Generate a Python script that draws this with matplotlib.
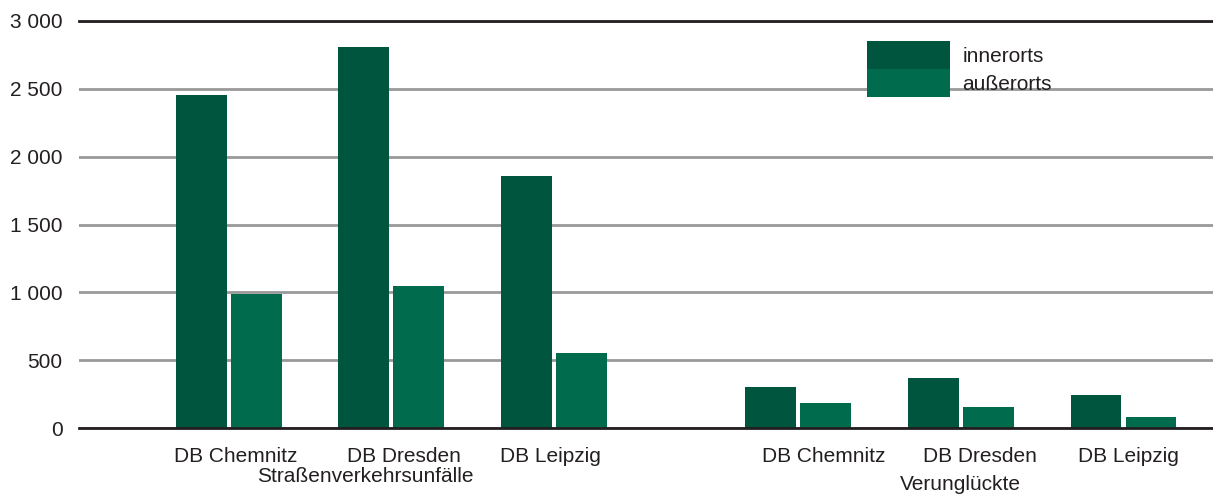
import matplotlib.pyplot as plt
import numpy as np

plt.rcParams['font.family'] = ['Liberation Sans', 'DejaVu Sans']

districts = ["DB Chemnitz", "DB Dresden", "DB Leipzig"]
groups = ["Straßenverkehrsunfälle", "Verunglückte"]
innerorts = [2455, 2810, 1855, 302, 371, 241]
ausserorts = [988, 1047, 553, 187, 155, 84]
series_labels = ["innerorts", "außerorts"]
yticks = [0, 500, 1000, 1500, 2000, 2500, 3000]
ytick_labels = ["0", "500", "1 000", "1 500", "2 000", "2 500", "3 000"]

dark = "#00553f"
light = "#006b4d"

fig = plt.figure(figsize=(12.13, 4.95), dpi=100)
ax = fig.add_axes([79/1213, 1 - 428/495, 1 - 79/1213, (428 - 21)/495])

# pair centres: two groups of three, wider gap between groups
x = np.array([0, 1, 2, 3.5, 4.5, 5.5])
w = 0.313
gap = 0.0125
ax.bar(x - w/2 - gap, innerorts, w, color=dark, label=series_labels[0], zorder=3)
ax.bar(x + w/2 + gap, ausserorts, w, color=light, label=series_labels[1], zorder=3)

ax.set_xlim(-0.92, 6.05)
ax.set_ylim(0, 3000)
ax.set_yticks(yticks)
ax.set_yticklabels(ytick_labels)
ax.tick_params(axis='y', length=0, pad=11.7, labelsize=15, labelcolor="#231f20")
ax.tick_params(axis='x', length=0, pad=14, labelsize=15, labelcolor="#231f20")

label_x = [0.04, 1.08, 1.98, 3.66, 4.62, 5.53]
ax.set_xticks(label_x)
ax.set_xticklabels(districts * 2)

for s in ["left", "right"]:
    ax.spines[s].set_visible(False)
ax.spines["top"].set_color("#231f20")
ax.spines["top"].set_linewidth(2)
ax.spines["bottom"].set_color("#231f20")
ax.spines["bottom"].set_linewidth(2)
ax.spines["bottom"].set_zorder(4)
ax.yaxis.grid(True, color="#999999", linewidth=2, zorder=0)
ax.set_axisbelow(True)

# group captions under the district labels
ax.text(0.84, -0.118, groups[0], transform=ax.get_xaxis_transform(),
        ha="center", va="center", fontsize=15, color="#231f20")
ax.text(4.5, -0.138, groups[1], transform=ax.get_xaxis_transform(),
        ha="center", va="center", fontsize=15, color="#231f20")

leg = ax.legend(loc="upper left", bbox_to_anchor=(867/1213, 1 - 41/495),
                bbox_transform=fig.transFigure, frameon=False, fontsize=15,
                handlelength=4.0, handleheight=1.7, labelspacing=0,
                handletextpad=0.58, borderpad=0, borderaxespad=0)
for t in leg.get_texts():
    t.set_color("#231f20")

fig.savefig("out.png", dpi=100)
